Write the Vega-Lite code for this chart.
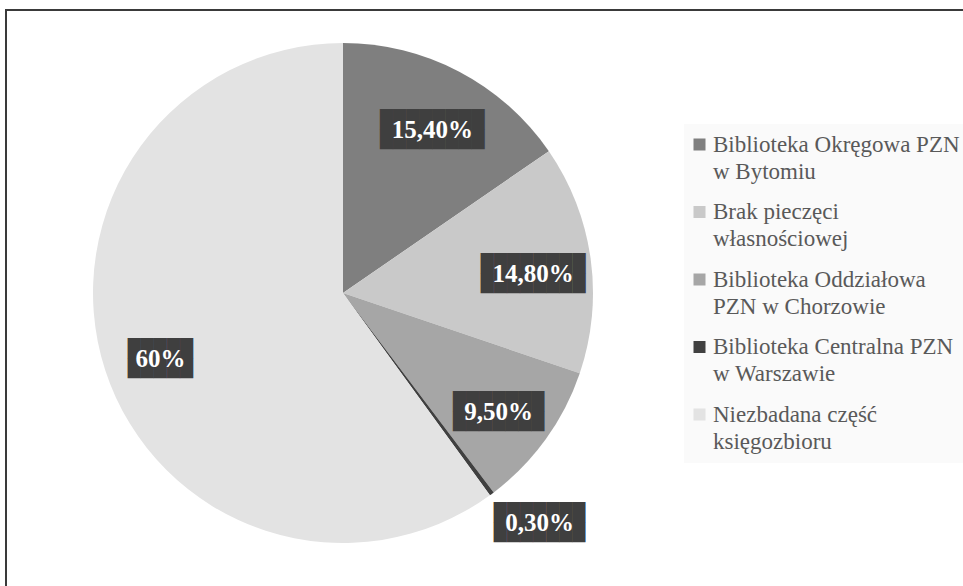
{
  "$schema": "https://vega.github.io/schema/vega-lite/v6.json",
  "width": 963,
  "height": 586,
  "autosize": {"type": "fit", "contains": "padding"},
  "padding": {"left": 6, "top": 10, "right": -4, "bottom": -4},
  "background": "white",
  "view": {"stroke": "#3a3a3a", "strokeWidth": 2, "fill": "white"},
  "config": {"style": {"guide-label": {"lineHeight": 27}}},
  "data": {
    "values": [
      {"kategoria": "Biblioteka Okręgowa PZN w Bytomiu", "procent": 15.4, "etykieta": "15,40%", "nr": 1},
      {"kategoria": "Brak pieczęci własnościowej", "procent": 14.8, "etykieta": "14,80%", "nr": 2},
      {"kategoria": "Biblioteka Oddziałowa PZN w Chorzowie", "procent": 9.5, "etykieta": "9,50%", "nr": 3},
      {"kategoria": "Biblioteka Centralna PZN w Warszawie", "procent": 0.3, "etykieta": "0,30%", "nr": 4},
      {"kategoria": "Niezbadana część księgozbioru", "procent": 60, "etykieta": "60%", "nr": 5}
    ]
  },
  "transform": [
    {"stack": "procent", "groupby": [], "sort": [{"field": "nr", "order": "ascending"}], "as": ["t0", "t1"]},
    {"calculate": "(datum.t0 + datum.t1) / 2", "as": "srodek"},
    {"calculate": "replace(datum.etykieta, /./g, '█') + '██'", "as": "pudelko"}
  ],
  "layer": [
    {
      "mark": {"type": "arc", "outerRadius": 250, "x": 337, "y": 283},
      "encoding": {
        "theta": {"field": "t0", "type": "quantitative", "stack": null, "scale": {"domain": [0, 100]}},
        "theta2": {"field": "t1"},
        "color": {
          "field": "kategoria",
          "type": "nominal",
          "sort": {"field": "nr"},
          "scale": {
            "domain": ["Biblioteka Okręgowa PZN w Bytomiu", "Brak pieczęci własnościowej", "Biblioteka Oddziałowa PZN w Chorzowie", "Biblioteka Centralna PZN w Warszawie", "Niezbadana część księgozbioru"],
            "range": ["#7f7f7f", "#c9c9c9", "#a6a6a6", "#404040", "#e3e3e3"]
          },
          "legend": {
            "title": null,
            "orient": "none",
            "legendX": 678,
            "legendY": 114,
            "fillColor": "#fafafa",
            "padding": 9,
            "symbolType": "square",
            "symbolSize": 144,
            "symbolStrokeWidth": 0,
            "symbolOffset": -5,
            "labelFont": "Liberation Serif, Times New Roman, Times, serif",
            "labelFontSize": 23,
            "labelColor": "#595959",
            "labelLimit": 400,
            "labelOffset": 2,
            "rowPadding": 16.5,
            "labelExpr": "datum.label == 'Biblioteka Okręgowa PZN w Bytomiu' ? ['Biblioteka Okręgowa PZN', 'w Bytomiu'] : datum.label == 'Brak pieczęci własnościowej' ? ['Brak pieczęci', 'własnościowej'] : datum.label == 'Biblioteka Oddziałowa PZN w Chorzowie' ? ['Biblioteka Oddziałowa', 'PZN w Chorzowie'] : datum.label == 'Biblioteka Centralna PZN w Warszawie' ? ['Biblioteka Centralna PZN', 'w Warszawie'] : ['Niezbadana część', 'księgozbioru']"
          }
        }
      }
    },
    {
      "transform": [{"filter": "datum.procent >= 1"}],
      "mark": {"type": "text", "x": 337, "y": 283, "radius": 192, "dy": -3, "font": "DejaVu Sans", "fontSize": 17, "color": "#3f3f3f"},
      "encoding": {
        "theta": {"field": "srodek", "type": "quantitative", "stack": null, "scale": {"domain": [0, 100]}},
        "text": {"field": "pudelko"}
      }
    },
    {
      "transform": [{"filter": "datum.procent >= 1"}],
      "mark": {"type": "text", "x": 337, "y": 283, "radius": 192, "dy": 17, "font": "DejaVu Sans", "fontSize": 17, "color": "#3f3f3f"},
      "encoding": {
        "theta": {"field": "srodek", "type": "quantitative", "stack": null, "scale": {"domain": [0, 100]}},
        "text": {"field": "pudelko"}
      }
    },
    {
      "transform": [{"filter": "datum.procent >= 1"}],
      "mark": {"type": "text", "x": 337, "y": 283, "radius": 192, "dy": 7, "font": "Liberation Serif, Times New Roman, Times, serif", "fontWeight": "bold", "fontSize": 25, "color": "white"},
      "encoding": {
        "theta": {"field": "srodek", "type": "quantitative", "stack": null, "scale": {"domain": [0, 100]}},
        "text": {"field": "etykieta"}
      }
    },
    {
      "transform": [{"filter": "datum.procent < 1"}],
      "mark": {"type": "text", "x": 337, "y": 283, "radius": 300, "dx": 18, "dy": -21, "font": "DejaVu Sans", "fontSize": 17, "color": "#3f3f3f"},
      "encoding": {
        "theta": {"field": "srodek", "type": "quantitative", "stack": null, "scale": {"domain": [0, 100]}},
        "text": {"field": "pudelko"}
      }
    },
    {
      "transform": [{"filter": "datum.procent < 1"}],
      "mark": {"type": "text", "x": 337, "y": 283, "radius": 300, "dx": 18, "dy": -1, "font": "DejaVu Sans", "fontSize": 17, "color": "#3f3f3f"},
      "encoding": {
        "theta": {"field": "srodek", "type": "quantitative", "stack": null, "scale": {"domain": [0, 100]}},
        "text": {"field": "pudelko"}
      }
    },
    {
      "transform": [{"filter": "datum.procent < 1"}],
      "mark": {"type": "text", "x": 337, "y": 283, "radius": 300, "dx": 18, "dy": -11, "font": "Liberation Serif, Times New Roman, Times, serif", "fontWeight": "bold", "fontSize": 25, "color": "white"},
      "encoding": {
        "theta": {"field": "srodek", "type": "quantitative", "stack": null, "scale": {"domain": [0, 100]}},
        "text": {"field": "etykieta"}
      }
    }
  ]
}
